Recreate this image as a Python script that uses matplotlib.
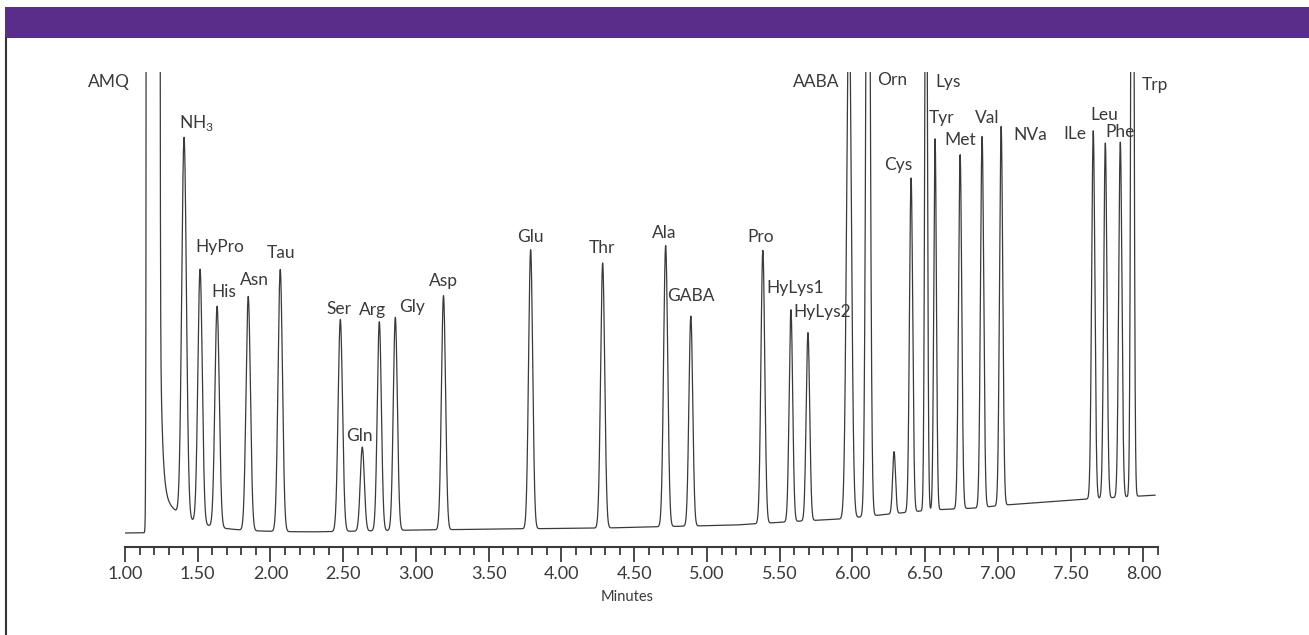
import numpy as np
import matplotlib.pyplot as plt
from matplotlib.patches import Rectangle
from matplotlib.lines import Line2D
from matplotlib.ticker import MultipleLocator, FormatStrFormatter

plt.rcParams['font.family'] = ['Lato', 'DejaVu Sans']
plt.rcParams['mathtext.fontset'] = 'custom'
plt.rcParams['mathtext.rm'] = 'Lato'

# 峰表: 名称, 保留时间(min), 峰高(基线以上), 峰宽 sigma(min)
names = ['NH$_{\\mathregular{3}}$', 'HyPro', 'His', 'Asn', 'Tau', 'Ser', 'Gln', 'Arg', 'Gly', 'Asp',
         'Glu', 'Thr', 'Ala', 'GABA', 'Pro', 'HyLys1', 'HyLys2', 'AABA', 'Orn', None,
         'Cys', 'Lys', 'Tyr', 'Met', 'Val', 'NVa', 'ILe', 'Leu', 'Phe', 'Trp']
rt = [1.406, 1.516, 1.633, 1.847, 2.067, 2.480, 2.631, 2.748, 2.858, 3.189,
      3.788, 4.283, 4.716, 4.889, 5.384, 5.577, 5.694, 5.976, 6.107, 6.286,
      6.403, 6.506, 6.568, 6.740, 6.891, 7.022, 7.655, 7.738, 7.841, 7.924]
height = [379, 254, 221, 234, 262, 212, 84, 209, 213, 234,
          279, 265, 281, 210, 273, 212, 188, 530, 890, 62,
          334, 700, 371, 354, 371, 379, 368, 355, 355, 1050]
sigma = [0.016, 0.015, 0.015, 0.015, 0.015, 0.015, 0.014, 0.014, 0.014, 0.014,
         0.014, 0.014, 0.014, 0.013, 0.013, 0.012, 0.012, 0.016, 0.013, 0.010,
         0.011, 0.0085, 0.009, 0.011, 0.011, 0.011, 0.011, 0.011, 0.011, 0.009]

# AMQ 试剂峰 (超出量程) 及其拖尾
amq_rt, amq_height, amq_sigma = 1.193, 1e8, 0.0097
amq_tail_start = 1.236
amq_tail_amp = [251, 39.4]
amq_tail_tau = [0.0154, 0.19]

# 基线漂移
base_t = [1.0, 1.7, 2.3, 3.0, 3.6, 4.3, 5.2, 5.65, 5.92, 6.12, 6.33, 6.54, 6.85, 7.05, 7.62, 8.1]
base_s = [14, 15, 15, 17, 18, 19, 22, 26, 28, 31, 34, 37, 39, 42, 48, 52]

# 标签位置 (布局)
label_pos = [(1.495, 424), (1.650, 300), (1.681, 255), (1.887, 267), (2.076, 294),
             (2.472, 238), (2.613, 111), (2.699, 237), (2.974, 240), (3.187, 266),
             (3.785, 310), (4.281, 299), (4.707, 314), (4.886, 251), (5.367, 310),
             (5.608, 259), (5.790, 235), (5.749, 465), (6.275, 467), None,
             (6.316, 382), (6.657, 465), (6.615, 429), (6.739, 407), (6.925, 429),
             (7.221, 412), (7.530, 413), (7.730, 432), (7.840, 415), (8.077, 462)]

t = np.arange(1.0, 8.08, 0.0004)
y = np.interp(t, base_t, base_s)
y = y + amq_height * np.exp(-(t - amq_rt) ** 2 / (2 * amq_sigma ** 2))
dt = np.clip(t - amq_tail_start, 0, None)
for a, tau in zip(amq_tail_amp, amq_tail_tau):
    y = y + np.where(t >= amq_tail_start, a * np.exp(-dt / tau), 0)
for r, h, s in zip(rt, height, sigma):
    y = y + h * np.exp(-(t - r) ** 2 / (2 * s ** 2))

W, H = 1309, 635
fig = plt.figure(figsize=(W / 100, H / 100), dpi=100)
fig.patches.append(Rectangle((5 / W, 1 - 38 / H), 1 - 5 / W, 31 / H, transform=fig.transFigure,
                             facecolor='#5b2d8b', edgecolor='none'))
fig.lines.append(Line2D([6 / W, 6 / W], [0, 1 - 38 / H], transform=fig.transFigure,
                        color='#333333', linewidth=1.5))

ax = fig.add_axes([125 / W, 1 - 547 / H, (1158 - 125) / W, (547 - 72) / H])
ax.plot(t, y, color='#3a3a3a', linewidth=0.9)
ax.set_xlim(1.0, 8.1)
ax.set_ylim(0, 475)
for side in ['left', 'right', 'top']:
    ax.spines[side].set_visible(False)
ax.spines['bottom'].set_linewidth(1.5)
ax.spines['bottom'].set_color('#3a3a3a')
ax.set_yticks([])
ax.xaxis.set_major_locator(MultipleLocator(0.5))
ax.xaxis.set_minor_locator(MultipleLocator(0.1))
ax.xaxis.set_major_formatter(FormatStrFormatter('%.2f'))
ax.tick_params(axis='x', which='major', direction='out', length=10.5, width=1.3,
               color='#3a3a3a', labelsize=13, labelcolor='#3a3a3a', pad=3)
ax.tick_params(axis='x', which='minor', direction='out', length=5.5, width=1.3, color='#3a3a3a')

ax.text(1.034, 465, 'AMQ', ha='right', va='center', fontsize=12.5, color='#3a3a3a')
for name, pos in zip(names, label_pos):
    if name is None:
        continue
    ax.text(pos[0], pos[1], name, ha='center', va='center', fontsize=12.5, color='#3a3a3a')

fig.text(627 / W, 1 - 597 / H, 'Minutes', ha='center', va='center', fontsize=10.5, color='#3a3a3a')

fig.savefig('out.png', dpi=100, facecolor='white')
